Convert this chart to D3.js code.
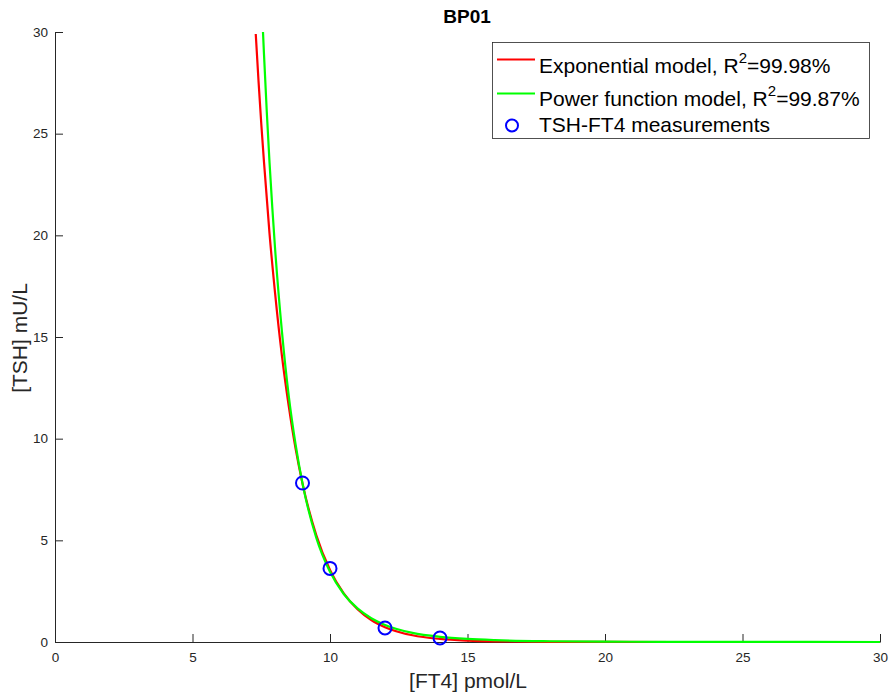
<!DOCTYPE html>
<html>
<head>
<meta charset="utf-8">
<script src="https://cdn.jsdelivr.net/npm/d3@7"></script>
<style>
  body { margin: 0; background: #fff; }
  text { font-family: "Liberation Sans", Arial, sans-serif; }
</style>
</head>
<body>
<div id="chart"></div>
<script>
'use strict';

// measured TSH-FT4 pairs
const ft4Measured = [9, 10, 12, 14];
const tshMeasured = [7.82, 3.62, 0.69, 0.2];

// exponential model curve
const expFt4 = [7.3, 7.4, 7.5, 7.6, 7.8, 8.0, 8.25, 8.5, 8.75, 9, 9.5, 10, 10.5, 11, 11.5, 12, 13, 14, 15, 16, 18, 20, 25, 30];
const expTsh = [29.9, 27.6, 25.5, 23.6, 20.1, 17.2, 14.1, 11.6, 9.5, 7.8, 5.26, 3.54, 2.39, 1.61, 1.08, 0.73, 0.33, 0.15, 0.068, 0.031, 0.0064, 0.0013, 0, 0];

// power function model curve
const powFt4 = [7.56, 7.6, 7.7, 7.8, 7.9, 8.0, 8.25, 8.5, 8.75, 9, 9.5, 10, 10.5, 11, 11.5, 12, 13, 14, 15, 16, 18, 20, 22, 25, 30];
const powTsh = [30.1, 28.9, 26.1, 23.6, 21.4, 19.4, 15.3, 12.1, 9.7, 7.8, 5.13, 3.45, 2.36, 1.65, 1.17, 0.84, 0.45, 0.255, 0.15, 0.091, 0.037, 0.016, 0.0077, 0.0029, 0.0007];

const xTicks = [0, 5, 10, 15, 20, 25, 30];
const yTicks = [0, 5, 10, 15, 20, 25, 30];

const width = 890, height = 694;
const margin = {left: 55, right: 10, top: 32, bottom: 52};
const axisColor = "#262626";

const svg = d3.select("#chart")
    .append("svg")
    .attr("width", width)
    .attr("height", height);

const xScale = d3.scaleLinear()
    .domain([0, 30])
    .range([margin.left, width - margin.right]);
const yScale = d3.scaleLinear()
    .domain([0, 30])
    .range([height - margin.bottom, margin.top]);

svg.append("defs").append("clipPath")
    .attr("id", "plotClip")
    .append("rect")
    .attr("x", margin.left)
    .attr("y", margin.top)
    .attr("width", width - margin.right - margin.left + 2)
    .attr("height", height - margin.bottom - margin.top + 2);

// axes, ticks point inward like matlab
const xAxis = svg.append("g")
    .attr("transform", "translate(0," + (height - margin.bottom) + ")")
    .call(d3.axisBottom(xScale).tickValues(xTicks).tickSizeInner(-8).tickSizeOuter(0).tickPadding(10));
const yAxis = svg.append("g")
    .attr("transform", "translate(" + margin.left + ",0)")
    .call(d3.axisLeft(yScale).tickValues(yTicks).tickSizeInner(-8).tickSizeOuter(0).tickPadding(7));

[xAxis, yAxis].forEach(ax => {
    ax.select(".domain").attr("stroke", axisColor).attr("stroke-width", 1);
    ax.selectAll(".tick line").attr("stroke", axisColor);
    ax.selectAll(".tick text")
        .attr("fill", axisColor)
        .style("font-size", "13.5px")
        .style("font-family", "'Liberation Sans', Arial, sans-serif");
});

// curves
const plot = svg.append("g").attr("clip-path", "url(#plotClip)");
const line = d3.line()
    .x(d => xScale(d[0]))
    .y(d => yScale(d[1]))
    .curve(d3.curveMonotoneX);

plot.append("path")
    .datum(d3.zip(expFt4, expTsh))
    .attr("d", line)
    .attr("fill", "none")
    .attr("stroke", "#ff0000")
    .attr("stroke-width", 2.2);

plot.append("path")
    .datum(d3.zip(powFt4, powTsh))
    .attr("d", line)
    .attr("fill", "none")
    .attr("stroke", "#00ff00")
    .attr("stroke-width", 2.2);

svg.selectAll("circle.meas")
    .data(d3.zip(ft4Measured, tshMeasured))
    .enter()
    .append("circle")
    .classed("meas", true)
    .attr("cx", d => xScale(d[0]))
    .attr("cy", d => yScale(d[1]))
    .attr("r", 6.5)
    .attr("fill", "none")
    .attr("stroke", "#0000ff")
    .attr("stroke-width", 2);

// title and labels
svg.append("text")
    .attr("x", 467)
    .attr("y", 23)
    .attr("text-anchor", "middle")
    .style("font-size", "19px")
    .style("font-weight", "bold")
    .attr("fill", "#000")
    .text("BP01");

svg.append("text")
    .attr("x", 468)
    .attr("y", 688)
    .attr("text-anchor", "middle")
    .style("font-size", "21px")
    .attr("fill", axisColor)
    .text("[FT4] pmol/L");

svg.append("text")
    .attr("transform", "translate(27," + 338 + ") rotate(-90)")
    .attr("text-anchor", "middle")
    .style("font-size", "21px")
    .attr("fill", axisColor)
    .text("[TSH] mU/L");

// legend
const legend = svg.append("g");
legend.append("rect")
    .attr("x", 492.5)
    .attr("y", 42.5)
    .attr("width", 377)
    .attr("height", 96)
    .attr("fill", "#fff")
    .attr("stroke", "#262626")
    .attr("stroke-width", 0.8);

const legendRows = [
    {color: "#ff0000", name: "Exponential model, R", r2: "=99.98%", y: 73, lineY: 59.5},
    {color: "#00ff00", name: "Power function model, R", r2: "=99.87%", y: 106, lineY: 93.5}
];
legendRows.forEach(r => {
    legend.append("line")
        .attr("x1", 497).attr("x2", 535)
        .attr("y1", r.lineY).attr("y2", r.lineY)
        .attr("stroke", r.color)
        .attr("stroke-width", 2);
    const t = legend.append("text")
        .attr("x", 539)
        .attr("y", r.y)
        .style("font-size", "21px")
        .attr("fill", "#000");
    t.append("tspan").text(r.name);
    t.append("tspan").attr("dy", -10).style("font-size", "15px").text("2");
    t.append("tspan").attr("dy", 10).text(r.r2);
});
legend.append("circle")
    .attr("cx", 512)
    .attr("cy", 125.5)
    .attr("r", 6)
    .attr("fill", "none")
    .attr("stroke", "#0000ff")
    .attr("stroke-width", 2);
legend.append("text")
    .attr("x", 539)
    .attr("y", 132)
    .style("font-size", "21px")
    .attr("fill", "#000")
    .text("TSH-FT4 measurements");
</script>
</body>
</html>
